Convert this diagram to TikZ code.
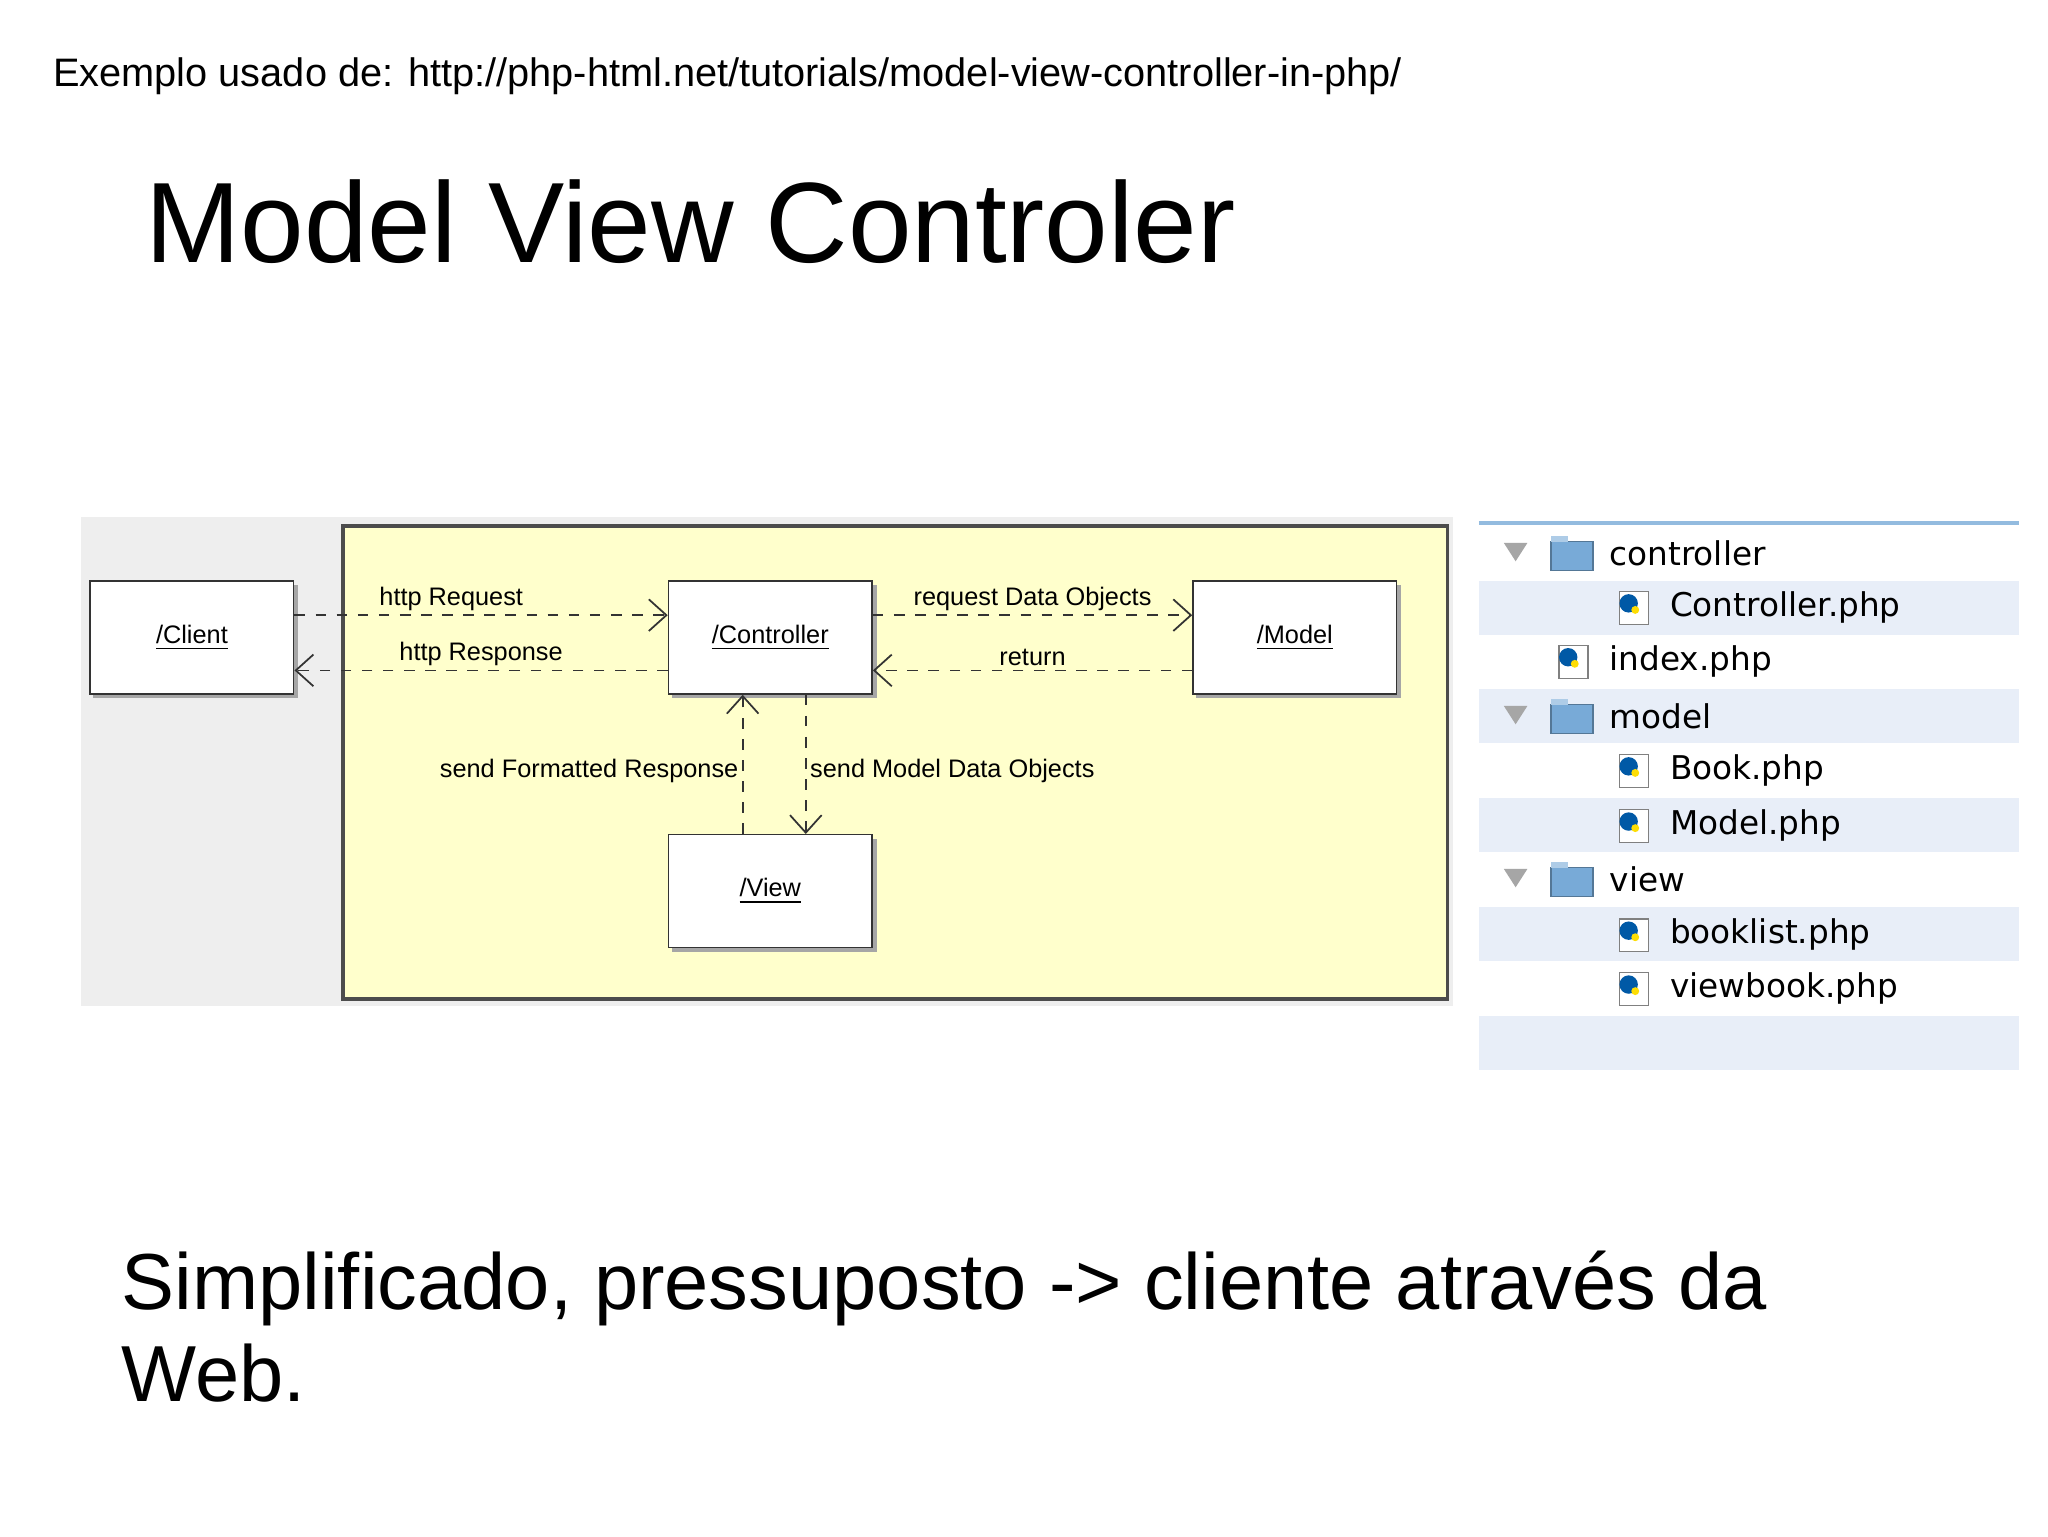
\documentclass[tikz,border=0pt]{standalone}
\usepackage{fontspec}
\setmainfont{Liberation Sans}
\newfontfamily\tree{DejaVu Sans}
\usetikzlibrary{arrows.meta}
\definecolor{pale}{RGB}{255,255,204}
\definecolor{panel}{RGB}{238,238,238}
\definecolor{rowblue}{RGB}{232,238,248}
\definecolor{folder}{RGB}{120,170,215}
\newlength{\unitpx}\setlength{\unitpx}{0.013145cm}
\tikzset{
  box/.style={draw=black!80,fill=white,minimum width=155\unitpx,minimum height=86\unitpx,
    font=\fontsize{7.2}{9}\selectfont,inner sep=0pt},
  msg/.style={draw=black!80,dashed,line width=0.5pt,-{Straight Barb[length=5pt,width=9pt]}},
  lbl/.style={font=\fontsize{7.2}{9}\selectfont,inner sep=1pt},
  row/.style={font=\tree\fontsize{9.3}{11}\selectfont,anchor=west,inner sep=0pt},
}
\begin{document}
\begin{tikzpicture}[x=0.013145cm,y=-0.013145cm]
\useasboundingbox (0,0) rectangle (1558,1169);
\node[anchor=base west,inner sep=0,font=\fontsize{11.3}{13}\selectfont] (src) at (40,66)
  {Exemplo usado de: http://php-html.net/tutorials/model-view-controller-in-php/};
\node[anchor=base west,inner sep=0,font=\fontsize{32.5}{38}\selectfont] (title) at (110,200) {Model View Controler};
\node[anchor=base west,inner sep=0,font=\fontsize{22.6}{26}\selectfont] (note1) at (92,996)
  {Simplificado, pressuposto -> cliente através da};
\node[anchor=base west,inner sep=0,font=\fontsize{22.6}{26}\selectfont] (note2) at (92,1066) {Web.};
% diagram
\fill[panel] (62,393) rectangle (1105,765);
\draw[fill=pale,draw=black!70,line width=1pt] (261,400) rectangle (1101,760);
\foreach \n/\x/\y/\t in {client/146/485/Client,ctrl/586/485/Controller,model/985/485/Model,view/586/678/View}{
  \fill[black!35] (\x-75,\y-40) rectangle (\x+81,\y+46);
  \node[box] (\n) at (\x,\y) {\underline{/\t}};
}
\draw[msg] (client.east|-0,468) -- node[lbl,above,pos=0.42] {http Request} (ctrl.west|-0,468);
\draw[msg] (ctrl.west|-0,510) -- node[lbl,above,pos=0.5] {http Response} (client.east|-0,510);
\draw[msg] (ctrl.east|-0,468) -- node[lbl,above] {request Data Objects} (model.west|-0,468);
\draw[msg] (model.west|-0,510) -- node[lbl,above] {return} (ctrl.east|-0,510);
\draw[msg] (565,0|-view.north) -- node[lbl,left,pos=0.45] {send Formatted Response} (565,0|-ctrl.south);
\draw[msg] (613,0|-ctrl.south) -- node[lbl,right,pos=0.55] {send Model Data Objects} (613,0|-view.north);
% file tree
\fill[white] (1125,398) rectangle (1536,815);
\foreach \y in {442,524,607,690,773} \fill[rowblue] (1125,\y) rectangle (1536,\y+41);
\draw[folder!80,line width=1.2pt] (1125,398) -- (1536,398);
\foreach \y/\ind/\t/\kind in {421/0/controller/d,462/1/Controller.php/f,503/0/index.php/f,545/0/model/d,
  586/1/Book.php/f,628/1/Model.php/f,669/0/view/d,711/1/booklist.php/f,752/1/viewbook.php/f}{
  \pgfmathsetmacro\xo{1196+46*\ind}
  \if\kind d
    \fill[gray!70] (1144,\y-8) -- (1162,\y-8) -- (1153,\y+6) -- cycle;
    \draw[folder!70!black,fill=folder] (\xo-16,\y-9) rectangle (\xo+16,\y+13);
    \fill[folder!60!white] (\xo-16,\y-13) rectangle (\xo-3,\y-9);
  \else
    \draw[gray,fill=white] (\xo-10,\y-12) rectangle (\xo+12,\y+13);
    \fill[teal!70!blue] (\xo-3,\y-3) circle (7);
    \fill[yellow!80!orange] (\xo+2,\y+2) circle (3);
  \fi
  \node[row] (r\y) at (\xo+28,\y) {\t};
}
\end{tikzpicture}
\end{document}
